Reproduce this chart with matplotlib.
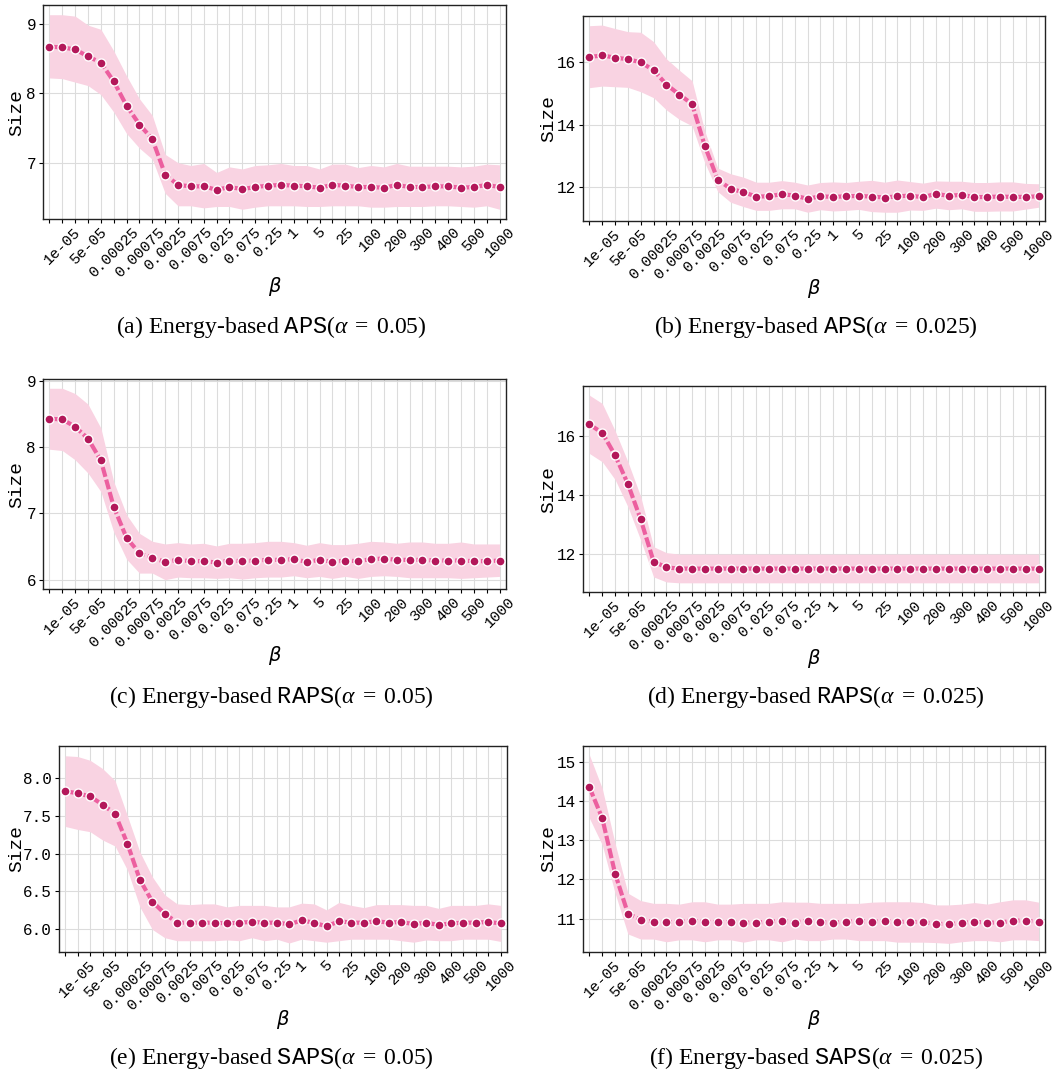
import matplotlib
matplotlib.use("Agg")
import matplotlib.pyplot as plt
import numpy as np

plt.rcParams['mathtext.fontset'] = 'custom'
plt.rcParams['mathtext.rm'] = 'Liberation Serif'
plt.rcParams['mathtext.it'] = 'Liberation Serif:italic'
plt.rcParams['mathtext.tt'] = 'Liberation Mono'

# x categories (36 beta values); every other one is labelled
tick_labels = ['1e-05', '5e-05', '0.00025', '0.00075', '0.0025', '0.0075', '0.025',
               '0.075', '0.25', '1', '5', '25', '100', '200', '300', '400', '500', '1000']
n_points = 36

# (a) APS alpha=0.05
a_mean = [8.67, 8.66, 8.63, 8.53, 8.44, 8.17, 7.82, 7.55, 7.34, 6.83, 6.68, 6.66, 6.66, 6.61, 6.65, 6.62,
          6.65, 6.67, 6.68, 6.67, 6.66, 6.64, 6.68, 6.67, 6.65, 6.65, 6.64, 6.68, 6.65, 6.65, 6.66, 6.66,
          6.64, 6.65, 6.68, 6.65]
a_hi = [9.13, 9.13, 9.11, 8.98, 8.92, 8.61, 8.25, 7.92, 7.68, 7.12, 7.00, 6.96, 6.99, 6.86, 6.94, 6.91,
        6.96, 6.97, 6.99, 6.96, 6.96, 6.91, 6.98, 6.98, 6.93, 6.96, 6.94, 6.99, 6.95, 6.95, 6.95, 6.95,
        6.94, 6.95, 6.98, 6.97]
a_lo = [8.22, 8.21, 8.16, 8.11, 7.98, 7.73, 7.42, 7.21, 7.05, 6.56, 6.38, 6.38, 6.35, 6.37, 6.37, 6.33,
        6.36, 6.38, 6.38, 6.38, 6.37, 6.37, 6.38, 6.38, 6.38, 6.36, 6.36, 6.37, 6.37, 6.37, 6.38, 6.38,
        6.37, 6.36, 6.38, 6.33]

# (b) APS alpha=0.025
b_mean = [16.16, 16.21, 16.14, 16.09, 15.99, 15.74, 15.28, 14.96, 14.66, 13.31, 12.24, 11.95, 11.84, 11.70,
          11.71, 11.78, 11.73, 11.63, 11.71, 11.69, 11.71, 11.72, 11.70, 11.67, 11.71, 11.73, 11.68, 11.79,
          11.72, 11.76, 11.68, 11.69, 11.70, 11.69, 11.69, 11.71]
b_hi = [17.16, 17.18, 17.07, 16.97, 16.95, 16.65, 16.10, 15.74, 15.40, 13.78, 12.61, 12.43, 12.32, 12.16,
        12.16, 12.21, 12.16, 12.07, 12.15, 12.17, 12.15, 12.19, 12.22, 12.16, 12.23, 12.18, 12.13, 12.20,
        12.19, 12.19, 12.15, 12.15, 12.17, 12.17, 12.12, 12.11]
b_lo = [15.18, 15.23, 15.21, 15.19, 15.05, 14.86, 14.47, 14.17, 13.96, 12.77, 11.86, 11.52, 11.38, 11.26,
        11.26, 11.31, 11.31, 11.20, 11.28, 11.24, 11.26, 11.29, 11.22, 11.20, 11.20, 11.27, 11.26, 11.33,
        11.28, 11.31, 11.23, 11.23, 11.24, 11.24, 11.30, 11.36]

# (c) RAPS alpha=0.05
c_mean = [8.43, 8.42, 8.31, 8.13, 7.80, 7.10, 6.63, 6.40, 6.33, 6.27, 6.30, 6.28, 6.28, 6.26, 6.29, 6.28,
          6.29, 6.30, 6.30, 6.31, 6.27, 6.30, 6.27, 6.29, 6.28, 6.31, 6.32, 6.30, 6.30, 6.30, 6.29, 6.29,
          6.29, 6.28, 6.28, 6.29]
c_hi = [8.89, 8.89, 8.81, 8.65, 8.29, 7.48, 6.98, 6.70, 6.58, 6.54, 6.56, 6.54, 6.55, 6.51, 6.55, 6.55,
        6.56, 6.58, 6.58, 6.56, 6.52, 6.56, 6.53, 6.53, 6.55, 6.58, 6.57, 6.55, 6.57, 6.57, 6.55, 6.55,
        6.57, 6.54, 6.54, 6.54]
c_lo = [7.97, 7.95, 7.81, 7.61, 7.33, 6.72, 6.31, 6.10, 6.10, 6.00, 6.04, 6.03, 6.03, 6.02, 6.03, 6.01,
        6.03, 6.04, 6.04, 6.06, 6.03, 6.05, 6.02, 6.05, 6.02, 6.05, 6.06, 6.05, 6.03, 6.03, 6.03, 6.03,
        6.02, 6.03, 6.04, 6.05]

# (d) RAPS alpha=0.025
d_mean = [16.38, 16.10, 15.34, 14.37, 13.17, 11.75, 11.55] + [11.51] * 29
d_hi = [17.37, 17.09, 16.17, 15.12, 13.94, 12.25, 12.05] + [12.00] * 29
d_lo = [15.40, 15.12, 14.52, 13.60, 12.47, 11.23, 11.06] + [11.03] * 29

# (e) SAPS alpha=0.05
e_mean = [7.83, 7.80, 7.76, 7.65, 7.53, 7.13, 6.65, 6.36, 6.20, 6.08, 6.08, 6.08, 6.08, 6.07, 6.08, 6.09,
          6.08, 6.08, 6.06, 6.11, 6.08, 6.03, 6.10, 6.08, 6.08, 6.10, 6.08, 6.09, 6.06, 6.08, 6.05, 6.07,
          6.08, 6.08, 6.09, 6.07]
e_hi = [8.30, 8.29, 8.24, 8.13, 7.97, 7.50, 7.02, 6.69, 6.45, 6.33, 6.32, 6.33, 6.33, 6.29, 6.31, 6.31,
        6.31, 6.29, 6.29, 6.34, 6.33, 6.25, 6.35, 6.31, 6.28, 6.32, 6.32, 6.32, 6.31, 6.31, 6.27, 6.31,
        6.31, 6.31, 6.33, 6.31]
e_lo = [7.36, 7.32, 7.29, 7.18, 7.10, 6.78, 6.29, 5.99, 5.88, 5.84, 5.84, 5.84, 5.84, 5.85, 5.84, 5.88,
        5.84, 5.86, 5.81, 5.86, 5.84, 5.82, 5.84, 5.86, 5.86, 5.86, 5.86, 5.84, 5.82, 5.85, 5.84, 5.84,
        5.86, 5.86, 5.86, 5.83]

# (f) SAPS alpha=0.025
f_mean = [14.35, 13.56, 12.15, 11.13, 10.97, 10.92, 10.91, 10.92, 10.95, 10.92, 10.91, 10.91, 10.90, 10.90,
          10.92, 10.95, 10.90, 10.95, 10.91, 10.90, 10.92, 10.94, 10.92, 10.94, 10.92, 10.92, 10.91, 10.87,
          10.86, 10.89, 10.92, 10.90, 10.90, 10.95, 10.95, 10.92]
f_hi = [15.17, 14.32, 12.92, 11.65, 11.46, 11.39, 11.39, 11.37, 11.43, 11.43, 11.37, 11.37, 11.39, 11.39,
        11.39, 11.43, 11.42, 11.42, 11.39, 11.39, 11.39, 11.39, 11.42, 11.43, 11.43, 11.43, 11.41, 11.35,
        11.35, 11.37, 11.41, 11.37, 11.43, 11.48, 11.48, 11.42]
f_lo = [13.56, 12.88, 11.65, 10.61, 10.48, 10.48, 10.41, 10.46, 10.46, 10.41, 10.46, 10.46, 10.40, 10.46,
        10.46, 10.41, 10.48, 10.44, 10.44, 10.48, 10.48, 10.44, 10.44, 10.44, 10.40, 10.40, 10.40, 10.39,
        10.37, 10.41, 10.44, 10.44, 10.41, 10.46, 10.46, 10.44]

captions = [r"(a) Energy-based $\mathtt{APS}(\alpha\;=\;0.05)$",
            r"(b) Energy-based $\mathtt{APS}(\alpha\;=\;0.025)$",
            r"(c) Energy-based $\mathtt{RAPS}(\alpha\;=\;0.05)$",
            r"(d) Energy-based $\mathtt{RAPS}(\alpha\;=\;0.025)$",
            r"(e) Energy-based $\mathtt{SAPS}(\alpha\;=\;0.05)$",
            r"(f) Energy-based $\mathtt{SAPS}(\alpha\;=\;0.025)$"]

panels = [(a_mean, a_lo, a_hi), (b_mean, b_lo, b_hi), (c_mean, c_lo, c_hi),
          (d_mean, d_lo, d_hi), (e_mean, e_lo, e_hi), (f_mean, f_lo, f_hi)]

W, H = 1055, 1072
# axes boxes in pixels: left, top, right, bottom
boxes = [(43, 5, 506, 219), (583, 16, 1045, 221),
         (43, 379, 506, 589), (583, 386, 1045, 592),
         (59, 746, 507, 952), (583, 746, 1045, 952)]
ylims = [(6.19, 9.27), (10.92, 17.47), (5.86, 9.03), (10.72, 17.68), (5.69, 8.43), (10.15, 15.4)]
yticks = [[7, 8, 9], [12, 14, 16], [6, 7, 8, 9], [12, 14, 16],
          [6.0, 6.5, 7.0, 7.5, 8.0], [11, 12, 13, 14, 15]]
ytickfmt = ['{:g}', '{:g}', '{:g}', '{:g}', '{:.1f}', '{:g}']
caption_y = [327, 327, 697, 697, 1058, 1058]
caption_x = [271, 816, 271, 816, 271, 816]
beta_y = [284, 286, 653, 656, 1017, 1017]
size_x = [16, 548, 16, 548, 16, 548]

LINE = '#ec5f9f'
MARK = '#b3185a'
BAND = '#f9d3e2'
MONO = 'Liberation Mono'

fig = plt.figure(figsize=(W / 100, H / 100), dpi=100)
x = np.arange(n_points)
all_labels = [''] * n_points
for k, lab in enumerate(tick_labels):
    all_labels[2 * k + 1] = lab

for i, (mean, lo, hi) in enumerate(panels):
    l, t, r, b = boxes[i]
    ax = fig.add_axes([l / W, 1 - b / H, (r - l) / W, (b - t) / H])
    ax.fill_between(x, lo, hi, color=BAND, linewidth=0, zorder=1)
    ax.plot(x, mean, color=LINE, lw=3.0, linestyle=(0, (2.4, 0.7)), zorder=2)
    ax.plot(x, mean, linestyle='none', marker='o', ms=6.5, mfc=MARK, mec='white', mew=1.0, zorder=3)
    ax.set_xlim(-0.5, n_points - 0.5)
    ax.set_ylim(*ylims[i])
    ax.set_xticks(x)
    ax.set_xticklabels(all_labels, rotation=45, ha='center', va='top',
                       fontfamily=MONO, fontsize=11)
    ax.tick_params(axis='x', length=3, width=0.8, direction='out', pad=1)
    ax.set_yticks(yticks[i])
    ax.set_yticklabels([ytickfmt[i].format(v) for v in yticks[i]], fontfamily=MONO, fontsize=11.5)
    ax.tick_params(axis='y', length=3, width=0.8, direction='out', pad=2)
    ax.grid(True, which='major', color='#dcdcdc', linewidth=0.8)
    ax.set_axisbelow(True)
    for s in ax.spines.values():
        s.set_color('#222222')
        s.set_linewidth(1.0)
    ax.set_ylabel('Size', fontfamily=MONO, fontsize=14)
    ax.yaxis.set_label_coords((size_x[i] + 9 - l) / (r - l), 0.5)
    ax.set_xlabel(r'$\beta$', math_fontfamily='dejavusans', fontsize=14)
    ax.xaxis.set_label_coords(0.5, (b - (beta_y[i] - 9)) / (b - t))
    fig.text(caption_x[i] / W, 1 - caption_y[i] / H, captions[i], ha='center', va='center',
             fontfamily='Liberation Serif', fontsize=17)

fig.savefig('out.png', dpi=100)
